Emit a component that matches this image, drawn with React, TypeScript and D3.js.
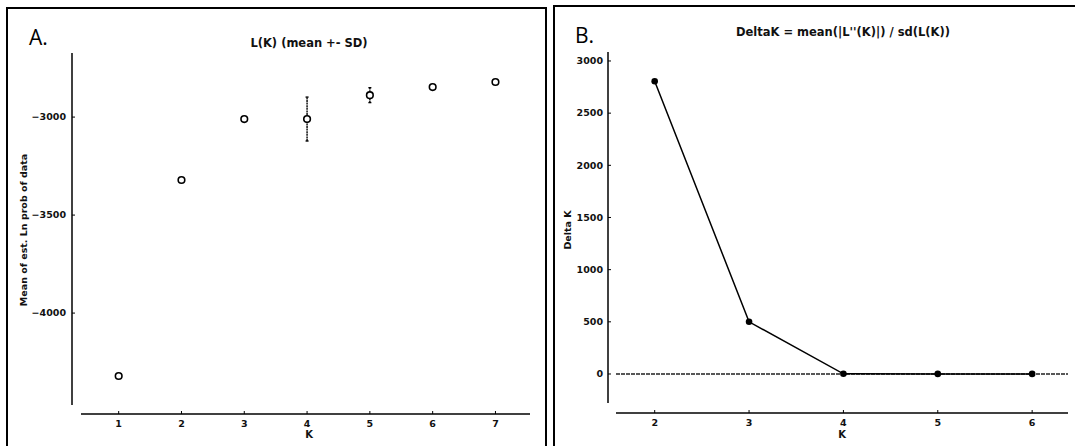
import React from "react";
import * as d3 from "d3";

const kA = [1, 2, 3, 4, 5, 6, 7];
const meanLK = [-4321, -3321, -3010, -3010, -2888, -2847, -2821];
const sdLK = [0, 0, 0, 112, 38, 0, 0];
const yTicksA = [-4000, -3500, -3000];

const kB = [2, 3, 4, 5, 6];
const deltaK = [2806, 500, 2, 1, 1];
const yTicksB = [0, 500, 1000, 1500, 2000, 2500, 3000];

const titleA = "L(K) (mean +- SD)";
const titleB = "DeltaK = mean(|L''(K)|) / sd(L(K))";
const yLabelA = "Mean of est. Ln prob of data";
const yLabelB = "Delta K";
const xLabel = "K";

const FONT = "DejaVu Sans, sans-serif";
const fmt = d3.format("d");

export default function App() {
  // Panel A scales
  const xA = d3.scaleLinear().domain([0.4, 7.55]).range([81, 530]);
  const yA = d3.scaleLinear().domain([-4469, -2673]).range([405, 53]);
  // Panel B scales
  const xB = d3.scaleLinear().domain([1.59, 6.38]).range([616, 1068]);
  const yB = d3.scaleLinear().domain([-278, 3086]).range([403, 52]);

  const lineB = d3
    .line<number>()
    .x((_, i) => xB(kB[i]))
    .y((d) => yB(d));

  const axisYA = 72;
  const axisXA = 414;
  const axisYB = 608;
  const axisXB = 413;

  return (
    <svg
      width={1075}
      height={446}
      style={{ position: "absolute", left: 0, top: 0, display: "block", background: "#fff" }}
      fontFamily={FONT}
    >
      <rect x={0} y={0} width={1075} height={446} fill="#fff" />
      {/* frames */}
      <rect x={7} y={8} width={539} height={450} fill="none" stroke="#000" strokeWidth={2} />
      <rect x={554} y={6} width={530} height={450} fill="none" stroke="#000" strokeWidth={2} />

      {/* ---------- Panel A ---------- */}
      <text x={29} y={45} fontFamily="Open Sans, sans-serif" fontSize={21} fill="#000">A.</text>
      <text x={309} y={47} textAnchor="middle" fontSize={11.5} fontWeight="bold" fill="#111">{titleA}</text>

      {/* y axis */}
      <line x1={axisYA} x2={axisYA} y1={53} y2={405} stroke="#000" strokeWidth={1.5} />
      {yTicksA.map((t) => (
        <g key={t}>
          <line x1={axisYA} x2={axisYA + 3} y1={yA(t)} y2={yA(t)} stroke="#000" strokeWidth={1} />
          <text x={axisYA - 6} y={yA(t)} dy="0.35em" textAnchor="end" fontSize={9.5} fontWeight="bold" fill="#111">
            {fmt(t)}
          </text>
        </g>
      ))}
      <text
        transform={`translate(${24},${230}) rotate(-90)`}
        textAnchor="middle"
        dy="0.35em"
        fontSize={9.5}
        fontWeight="bold"
        fill="#111"
      >
        {yLabelA}
      </text>

      {/* x axis */}
      <line x1={81} x2={530} y1={axisXA} y2={axisXA} stroke="#000" strokeWidth={1.5} />
      {kA.map((k) => (
        <g key={k}>
          <line x1={xA(k)} x2={xA(k)} y1={axisXA} y2={axisXA - 3} stroke="#000" strokeWidth={1} />
          <text x={xA(k)} y={427} textAnchor="middle" fontSize={9.5} fontWeight="bold" fill="#111">
            {k}
          </text>
        </g>
      ))}
      <text x={309} y={438} textAnchor="middle" fontSize={10} fontWeight="bold" fill="#111">{xLabel}</text>

      {/* error bars + points */}
      {kA.map((k, i) => {
        const cx = xA(k);
        const sd = sdLK[i];
        return (
          <g key={k}>
            {sd > 0 && (
              <g stroke="#000" strokeWidth={1.4}>
                <line x1={cx} x2={cx} y1={yA(meanLK[i] - sd)} y2={yA(meanLK[i] + sd)} strokeDasharray="2,0.6" />
                <line x1={cx - 1.5} x2={cx + 1.5} y1={yA(meanLK[i] - sd)} y2={yA(meanLK[i] - sd)} />
                <line x1={cx - 1.5} x2={cx + 1.5} y1={yA(meanLK[i] + sd)} y2={yA(meanLK[i] + sd)} />
              </g>
            )}
            <circle cx={cx} cy={yA(meanLK[i])} r={3.3} fill="#fff" stroke="#000" strokeWidth={1.6} />
          </g>
        );
      })}

      {/* ---------- Panel B ---------- */}
      <text x={575} y={43} fontFamily="Open Sans, sans-serif" fontSize={21} fill="#000">B.</text>
      <text x={843} y={36} textAnchor="middle" fontSize={11.5} fontWeight="bold" fill="#111">{titleB}</text>

      <line x1={axisYB} x2={axisYB} y1={52} y2={403} stroke="#000" strokeWidth={1.5} />
      {yTicksB.map((t) => (
        <g key={t}>
          <line x1={axisYB} x2={axisYB + 3} y1={yB(t)} y2={yB(t)} stroke="#000" strokeWidth={1} />
          <text x={axisYB - 5} y={yB(t)} dy="0.35em" textAnchor="end" fontSize={9.5} fontWeight="bold" fill="#111">
            {fmt(t)}
          </text>
        </g>
      ))}
      <text
        transform={`translate(${568},${230}) rotate(-90)`}
        textAnchor="middle"
        dy="0.35em"
        fontSize={9.5}
        fontWeight="bold"
        fill="#111"
      >
        {yLabelB}
      </text>

      <line x1={616} x2={1068} y1={axisXB} y2={axisXB} stroke="#000" strokeWidth={1.5} />
      {kB.map((k) => (
        <g key={k}>
          <line x1={xB(k)} x2={xB(k)} y1={axisXB} y2={axisXB - 3} stroke="#000" strokeWidth={1} />
          <text x={xB(k)} y={426} textAnchor="middle" fontSize={9.5} fontWeight="bold" fill="#111">
            {k}
          </text>
        </g>
      ))}
      <text x={842} y={438} textAnchor="middle" fontSize={10} fontWeight="bold" fill="#111">{xLabel}</text>

      {/* zero reference line */}
      <line x1={616} x2={1068} y1={yB(0)} y2={yB(0)} stroke="#222" strokeWidth={1.5} strokeDasharray="4,1" />

      <path d={lineB(deltaK) || ""} fill="none" stroke="#000" strokeWidth={1.5} />
      {kB.map((k, i) => (
        <circle key={k} cx={xB(k)} cy={yB(deltaK[i])} r={3.3} fill="#000" />
      ))}
    </svg>
  );
}
